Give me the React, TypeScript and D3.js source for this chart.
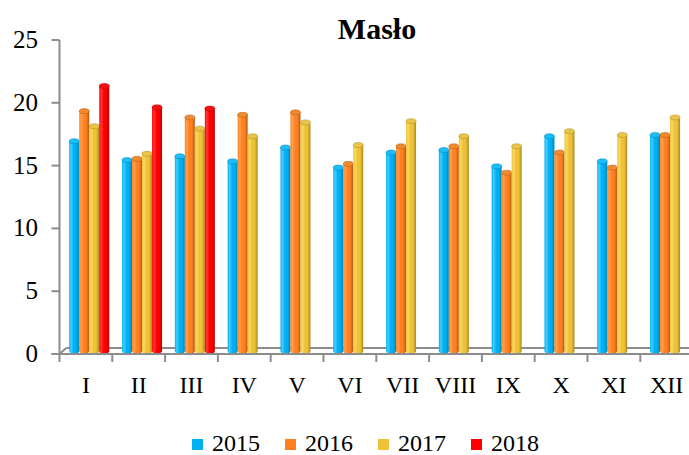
import React from "react";
import * as d3 from "d3";

const categories = ["I", "II", "III", "IV", "V", "VI", "VII", "VIII", "IX", "X", "XI", "XII"];
const seriesNames = ["2015", "2016", "2017", "2018"];
const s2015 = [16.7, 15.2, 15.5, 15.1, 16.2, 14.6, 15.8, 16.0, 14.7, 17.1, 15.1, 17.2];
const s2016 = [19.1, 15.3, 18.6, 18.8, 19.0, 14.9, 16.3, 16.3, 14.2, 15.8, 14.6, 17.2];
const s2017 = [17.9, 15.7, 17.7, 17.1, 18.2, 16.4, 18.3, 17.1, 16.3, 17.5, 17.2, 18.6];
const s2018: (number | null)[] = [21.1, 19.4, 19.3, null, null, null, null, null, null, null, null, null];
const yTicks = [0, 5, 10, 15, 20, 25];
const title = "Masło";

const allSeries = [s2015, s2016, s2017, s2018];
const colors = [
  { base: "#00B0F0", light: "#45CCFF", dark: "#0082B4", cap: "#1ABEF8" },
  { base: "#FF8020", light: "#FFA050", dark: "#B45A10", cap: "#F08A30" },
  { base: "#EEC136", light: "#F8D860", dark: "#A88A20", cap: "#E8C448" },
  { base: "#FF0000", light: "#FF3A3A", dark: "#B80000", cap: "#F21010" },
];

export default function App() {
  const W = 689, H = 455;
  const x0 = 59.5, band = 52.8;
  const depthX = 6.7, depthY = 6;
  const x = d3.scaleBand<string>().domain(categories).range([x0, x0 + band * 12]).paddingInner(0).paddingOuter(0);
  const y = d3.scaleLinear().domain([0, 25]).range([354, 40]);
  const inner = d3.scaleBand<string>().domain(seriesNames).range([0, 40]);
  const pad = (band - 40) / 2;
  const bw = inner.bandwidth();
  const ry = 2.5;
  const axisColor = "#8C8C8C";
  const font = "'Liberation Serif', 'Times New Roman', serif";

  return (
    <svg width={W} height={H} style={{ position: "absolute", left: 0, top: 0, background: "#fff" }}>
      <defs>
        {colors.map((c, i) => (
          <linearGradient key={i} id={`g${i}`} x1="0" x2="1" y1="0" y2="0">
            <stop offset="0%" stopColor={c.base} />
            <stop offset="20%" stopColor={c.light} />
            <stop offset="45%" stopColor={c.base} />
            <stop offset="70%" stopColor={c.base} />
            <stop offset="100%" stopColor={c.dark} />
          </linearGradient>
        ))}
      </defs>
      <text x={377} y={39} textAnchor="middle" fontFamily={font} fontWeight="bold" fontSize={30} fill="#000">{title}</text>

      {/* floor */}
      <line x1={x0 + depthX} y1={354 - depthY} x2={W} y2={354 - depthY} stroke={axisColor} strokeWidth={2} />
      <line x1={x0} y1={354} x2={x0 + depthX} y2={354 - depthY} stroke={axisColor} strokeWidth={2} />

      {/* bars */}
      {categories.map((cat, ci) => (
        <g key={cat}>
          {allSeries.map((s, si) => {
            const v = s[ci];
            if (v == null) return null;
            const bx = (x(cat) as number) + pad + depthX / 2 + (inner(seriesNames[si]) as number);
            const base = y(0) - depthY / 2;
            const top = y(v) - depthY / 2;
            return (
              <g key={si}>
                <path
                  d={`M${bx},${top} L${bx},${base} A${bw / 2},${ry} 0 0 0 ${bx + bw},${base} L${bx + bw},${top} Z`}
                  fill={`url(#g${si})`}
                />
                <ellipse cx={bx + bw / 2} cy={top} rx={bw / 2} ry={ry} fill={colors[si].cap} stroke={colors[si].dark} strokeWidth={0.5} />
              </g>
            );
          })}
        </g>
      ))}

      {/* front axis */}
      <line x1={x0 - 8} y1={354} x2={W} y2={354} stroke={axisColor} strokeWidth={2} />
      <line x1={x0} y1={40} x2={x0} y2={354} stroke={axisColor} strokeWidth={2} />
      {yTicks.map((t) => (
        <g key={t}>
          <line x1={x0 - 8} x2={x0} y1={y(t)} y2={y(t)} stroke={axisColor} strokeWidth={2} />
          <text x={38} y={y(t) + 8} textAnchor="end" fontFamily={font} fontSize={25} fill="#000">{t}</text>
        </g>
      ))}
      {categories.map((cat, ci) => (
        <g key={cat}>
          <line x1={x(cat) as number} x2={x(cat) as number} y1={354} y2={362} stroke={axisColor} strokeWidth={2} />
          <text x={(x(cat) as number) + band / 2} y={393} textAnchor="middle" fontFamily={font} fontSize={24} fill="#000">{cat}</text>
        </g>
      ))}

      {/* legend */}
      {seriesNames.map((n, i) => {
        const lx = 192 + i * 93;
        return (
          <g key={n}>
            <rect x={lx} y={439} width={11} height={11} fill={colors[i].base} />
            <text x={lx + 20} y={451} fontFamily={font} fontSize={24} fill="#000">{n}</text>
          </g>
        );
      })}
    </svg>
  );
}
